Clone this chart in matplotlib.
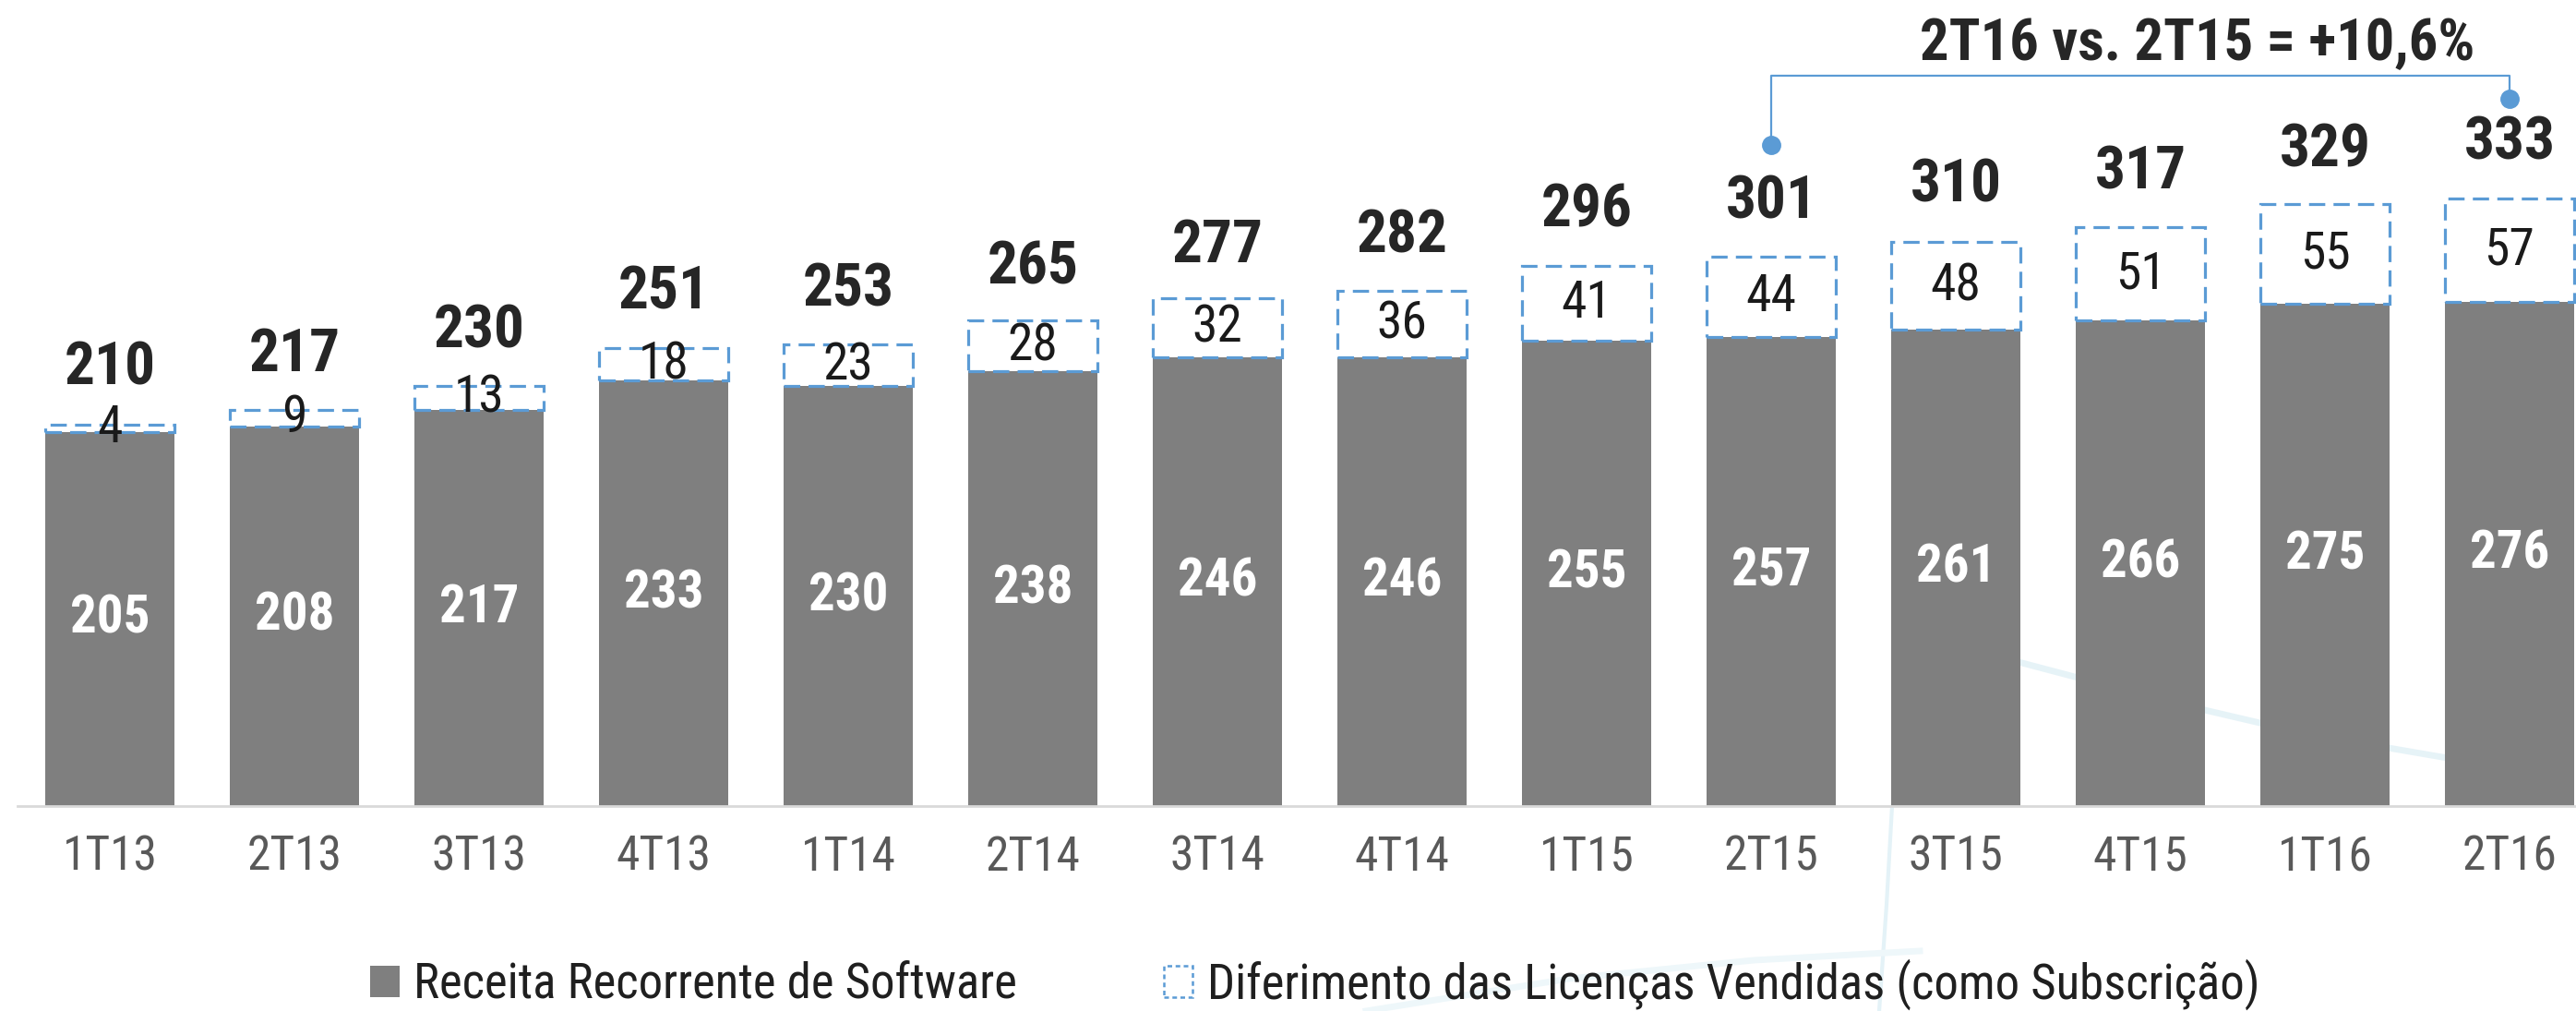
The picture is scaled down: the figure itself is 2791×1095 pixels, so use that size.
import matplotlib
matplotlib.use("Agg")
import matplotlib.pyplot as plt
from matplotlib.patches import Patch
import numpy as np

plt.rcParams['font.family'] = ['Roboto Condensed', 'Liberation Sans', 'DejaVu Sans']

categories = ["1T13", "2T13", "3T13", "4T13", "1T14", "2T14", "3T14", "4T14",
              "1T15", "2T15", "3T15", "4T15", "1T16", "2T16"]
receita = [205, 208, 217, 233, 230, 238, 246, 246, 255, 257, 261, 266, 275, 276]
diferimento = [4, 9, 13, 18, 23, 28, 32, 36, 41, 44, 48, 51, 55, 57]
totais = [210, 217, 230, 251, 253, 265, 277, 282, 296, 301, 310, 317, 329, 333]
legend_labels = ["Receita Recorrente de Software",
                 "Diferimento das Licenças Vendidas (como Subscrição)"]
comparison_text = "2T16 vs. 2T15 = +10,6%"

W, H = 2791, 1095
fig = plt.figure(figsize=(W / 100, H / 100), dpi=100)
fig.patch.set_facecolor("white")

# faint decorative background swooshes
deco = fig.add_axes([0, 0, 1, 1], zorder=0)
deco.set_xlim(0, W); deco.set_ylim(H, 0); deco.axis("off")
deco.plot([2050, 2044, 2036], [873, 980, 1095], color="#e4f2f7", lw=3, solid_capstyle="round")
deco.plot([2187, 2350, 2500, 2646], [717, 760, 795, 820], color="#e4f2f7", lw=5, alpha=0.9)
deco.plot([1480, 1700, 1900, 2080], [1095, 1060, 1040, 1030], color="#eef7fa", lw=5)

ax = fig.add_axes([19 / W, (H - 873) / H, (W - 19) / W, 873 / H], zorder=1)
ax.patch.set_alpha(0)
x = np.arange(len(categories))
bw = 0.7
blue = "#5B9BD5"

ax.bar(x, receita, width=bw, color="#7f7f7f", edgecolor="none", zorder=2)
ax.bar(x, diferimento, width=bw, bottom=receita, facecolor="none", edgecolor=blue,
       linewidth=2.3, linestyle=(0, (5.5, 2.8)), zorder=3)

for xi, r, d, t in zip(x, receita, diferimento, totais):
    ax.text(xi, r / 2, str(r), ha="center", va="center", color="white",
            fontsize=41, fontweight="bold", zorder=4)
    ax.text(xi, r + d / 2, str(d), ha="center", va="center", color="#1a1a1a",
            fontsize=40, zorder=4)
    ax.text(xi, t + 30, str(t), ha="center", va="center", color="#262626",
            fontsize=47, fontweight="bold", zorder=4)

# comparison bracket
i15, i16 = categories.index("2T15"), categories.index("2T16")
y_br = 400
ax.plot([i15, i15, i16, i16], [362, y_br, y_br, 387.5], color=blue, lw=1.6,
        zorder=4, clip_on=False)
ax.plot([i15, i16], [362, 387.5], linestyle="none", marker="o", markersize=14,
        color=blue, zorder=5, clip_on=False)
ax.text(11.31, 417.5, comparison_text, ha="center", va="center", color="#262626",
        fontsize=45, fontweight="bold", zorder=4)

ax.set_xlim(-0.5, -0.5 + (W - 19) / 200)
ax.set_ylim(0, 873 / 1.977)
ax.set_xticks(x)
ax.set_xticklabels(categories, fontsize=37, color="#595959")
ax.tick_params(axis="x", length=0, pad=22)
ax.set_yticks([])
for s in ["top", "right", "left"]:
    ax.spines[s].set_visible(False)
ax.spines["bottom"].set_color("#d9d9d9")
ax.spines["bottom"].set_linewidth(2)

handles = [Patch(facecolor="#7f7f7f", edgecolor="none"),
           Patch(facecolor="white", edgecolor=blue, linewidth=1.8, linestyle=(0, (2, 1.5)))]
fig.legend(handles, legend_labels, loc="center left",
           bbox_to_anchor=(401 / W, 1 - 1066 / H), ncol=2, frameon=False,
           fontsize=38, handlelength=0.6, handleheight=0.6, handletextpad=0.3,
           columnspacing=3.0, borderpad=0, borderaxespad=0, labelcolor="#1f1f1f")

fig.savefig("out.png", dpi=100, facecolor="white")
